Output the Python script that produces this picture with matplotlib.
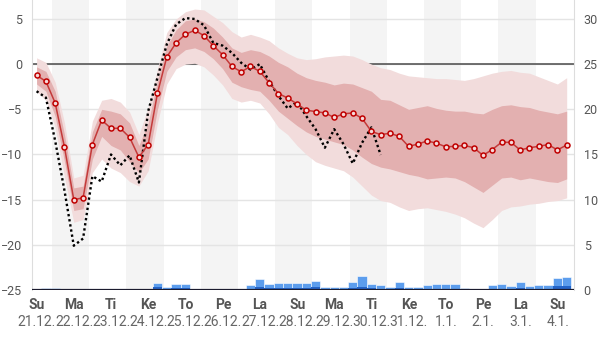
import numpy as np
import matplotlib
matplotlib.use('Agg')
import matplotlib.pyplot as plt
from matplotlib.transforms import blended_transform_factory

plt.rcParams['font.family'] = ['Roboto', 'DejaVu Sans']

# forecast steps: every 6 h starting 21.12. 14:00 (days since 21.12. 00:00)
first_step = 14 / 24
steps = first_step + 0.25 * np.arange(58)

day_names = ['Su', 'Ma', 'Ti', 'Ke', 'To', 'Pe', 'La',
             'Su', 'Ma', 'Ti', 'Ke', 'To', 'Pe', 'La', 'Su']
dates = ['21.12.', '22.12.', '23.12.', '24.12.', '25.12.', '26.12.', '27.12.',
         '28.12.', '29.12.', '30.12.', '31.12.', '1.1.', '2.1.', '3.1.', '4.1.']

# ensemble median temperature
median = [-1.25, -1.9, -4.3, -9.2, -15.0, -14.8, -8.9, -6.2, -7.1, -7.1,
          -8.1, -10.3, -8.9, -3.2, 0.8, 2.35, 3.3, 3.75, 3.15, 2.05,
          1.05, -0.25, -0.85, -0.25, -0.8, -2.05, -3.25, -3.75, -4.4, -5.1,
          -5.25, -5.4, -5.9, -5.5, -5.4, -6.0, -7.45, -7.8, -7.65, -8.0,
          -9.1, -8.85, -8.5, -8.75, -9.15, -9.1, -9.0, -9.25, -10.1, -9.45,
          -8.65, -8.65, -9.5, -9.25, -9.1, -8.9, -9.5, -8.95]

inner_hi = [-0.3, -0.8, -3.0, -7.8, -13.7, -13.5, -7.5, -5.0, -5.2, -5.5,
            -6.5, -9.0, -6.5, -1.8, 2.0, 3.8, 4.8, 5.0, 4.7, 4.0,
            3.0, 1.8, 1.3, 1.6, 1.4, 0.9, 0.2, -0.3, -1.0, -1.5,
            -1.8, -2.0, -2.3, -2.1, -2.2, -2.6, -3.0, -3.9, -4.0, -4.5,
            -5.0, -4.8, -4.6, -4.9, -5.1, -5.2, -5.2, -5.4, -5.5, -5.0,
            -4.6, -4.5, -4.7, -4.8, -5.1, -5.3, -5.5, -5.2]
inner_lo = [-2.2, -3.0, -5.8, -10.8, -16.2, -16.0, -10.5, -8.0, -9.0, -9.5,
            -10.8, -12.0, -10.5, -5.0, -0.8, 0.8, 1.6, 1.8, 1.4, 0.6,
            -0.5, -2.0, -2.5, -2.8, -3.0, -4.0, -5.2, -6.0, -6.8, -7.5,
            -8.0, -8.3, -8.6, -8.9, -9.5, -10.3, -11.0, -11.4, -11.6, -11.9,
            -12.2, -12.4, -12.7, -12.6, -12.5, -12.6, -13.0, -13.6, -14.2, -13.4,
            -12.6, -12.5, -12.8, -12.6, -12.8, -13.0, -13.1, -12.7]
outer_hi = [0.7, 0.2, -2.0, -6.5, -12.6, -12.3, -6.3, -4.0, -3.8, -4.2,
            -5.3, -7.8, -4.8, -0.5, 3.5, 5.0, 5.8, 6.1, 6.0, 5.3,
            4.6, 3.6, 3.0, 3.3, 3.0, 2.6, 1.8, 1.2, 0.7, 0.5,
            0.6, 0.8, 0.9, 1.0, 0.9, 0.5, 0.0, -0.4, -0.6, -1.0,
            -1.3, -1.4, -1.5, -1.6, -1.6, -1.7, -1.8, -1.6, -1.3, -1.0,
            -0.8, -0.7, -0.9, -1.0, -1.4, -1.8, -2.2, -1.5]
outer_lo = [-3.0, -4.0, -7.0, -12.5, -17.5, -17.2, -12.0, -10.5, -11.5, -12.0,
            -13.0, -13.5, -11.8, -6.5, -2.2, -0.5, 0.0, 0.1, -0.3, -1.2,
            -2.3, -3.8, -4.2, -4.0, -4.3, -5.5, -7.0, -7.8, -9.0, -10.0,
            -10.8, -11.2, -11.5, -11.8, -12.5, -13.5, -14.5, -15.1, -15.3, -15.8,
            -16.2, -16.0, -15.9, -16.1, -16.3, -16.6, -17.0, -17.6, -18.1, -17.2,
            -16.2, -15.8, -15.7, -15.5, -15.4, -15.2, -15.1, -14.8]

# observed temperature (ends 30.12.)
observed = [-3.0, -3.7, -8.5, -14.0, -20.1, -19.3, -12.4, -13.0, -10.0, -11.2,
            -10.1, -13.1, -5.2, -1.5, 2.2, 4.4, 5.1, 5.0, 4.3, 2.35,
            2.05, 1.25, 0.15, -0.6, 0.0, -1.9, -3.5, -4.9, -4.2, -5.75,
            -7.2, -9.25, -7.2, -8.85, -11.0, -8.7, -7.0, -10.05]

# 6 h precipitation, total and the more certain part
precip = [0.0, 0.22, 0.22, 0.0, 0.0, 0.0, 0.0, 0.1, 0.16, 0.0,
          0.0, 0.0, 0.16, 0.74, 0.36, 0.63, 0.63, 0.16, 0.0, 0.0,
          0.0, 0.0, 0.1, 0.55, 1.18, 0.63, 0.74, 0.72, 0.74, 0.74,
          1.0, 0.36, 0.33, 0.33, 0.85, 1.58, 0.7, 0.55, 0.36, 0.92,
          0.36, 0.36, 0.5, 0.66, 0.66, 0.66, 0.22, 0.1, 0.1, 0.5,
          0.66, 0.44, 0.88, 0.44, 0.6, 0.6, 1.29, 1.47]
precip_sure = [0.0, 0.0, 0.0, 0.0, 0.0, 0.0, 0.0, 0.0, 0.0, 0.0,
               0.0, 0.0, 0.0, 0.28, 0.1, 0.22, 0.22, 0.0, 0.0, 0.0,
               0.0, 0.0, 0.0, 0.16, 0.38, 0.22, 0.22, 0.22, 0.22, 0.22,
               0.28, 0.1, 0.1, 0.1, 0.22, 0.33, 0.22, 0.16, 0.1, 0.22,
               0.1, 0.1, 0.12, 0.16, 0.16, 0.16, 0.0, 0.0, 0.0, 0.12,
               0.16, 0.1, 0.22, 0.1, 0.16, 0.16, 0.44, 0.44]

fig = plt.figure(figsize=(6.0, 3.39), dpi=100)
ax = fig.add_axes([32 / 600, 49 / 339, 542 / 600, 290 / 339])
ax2 = ax.twinx()

t_lo, t_hi = 0.46, 15.03
ax.set_xlim(t_lo, t_hi)
ax.set_ylim(-25, 7.1)
ax2.set_ylim(0, 32.1)

# every other day shaded
for d in range(1, 15, 2):
    ax.axvspan(d, d + 1, color='#f4f4f4', lw=0, zorder=0)

for y in range(-20, 6, 5):
    ax.axhline(y, color='#e4e4e4', lw=1, zorder=1)
ax.axhline(0, color='#4a4a4a', lw=1.1, zorder=2)

ax.fill_between(steps, outer_lo, outer_hi, color='#f2dcdc', lw=0, zorder=3)
ax.fill_between(steps, inner_lo, inner_hi, color='#e3b0b0', lw=0, zorder=4)

ax.plot(steps[:len(observed)], observed, color='black', lw=1.7,
        ls=(0, (1, 1.2)), zorder=5)
ax.plot(steps, median, color='#c43a3a', lw=1.1, marker='o', ms=3.6,
        mfc='#f6dada', mec='#c00000', mew=1.1, zorder=6)

ax2.bar(steps, precip, width=0.25, color='#5c9ded', edgecolor='white',
        lw=0.4, zorder=3)
ax2.bar(steps, precip_sure, width=0.25, color='#2464c8', lw=0, zorder=4)
ax2.axhline(0, color='#1b1b2e', lw=1.6, zorder=5)

ax.set_yticks(range(-25, 6, 5))
ax2.set_yticks(range(0, 31, 5))
ax.set_xticks([])
for a in (ax, ax2):
    a.tick_params(length=0, labelsize=9, labelcolor='#555555')
    for s in a.spines.values():
        s.set_visible(False)
ax.tick_params(axis='y', pad=7)
ax2.tick_params(axis='y', pad=7)
ax.spines['left'].set_visible(True)
ax.spines['left'].set_color('#dddddd')
ax2.spines['right'].set_visible(True)
ax2.spines['right'].set_color('#dddddd')

trans = blended_transform_factory(ax.transData, fig.transFigure)
for i, (name, date) in enumerate(zip(day_names, dates)):
    x = i + 0.59
    ax.text(x, 1 - 305 / 339, name, transform=trans, ha='center', va='center',
            fontsize=10, fontweight='bold', color='#555555', clip_on=False)
    ax.text(x, 1 - 322 / 339, date, transform=trans, ha='center', va='center',
            fontsize=10, color='#666666', clip_on=False)

fig.savefig('out.png', dpi=100)
